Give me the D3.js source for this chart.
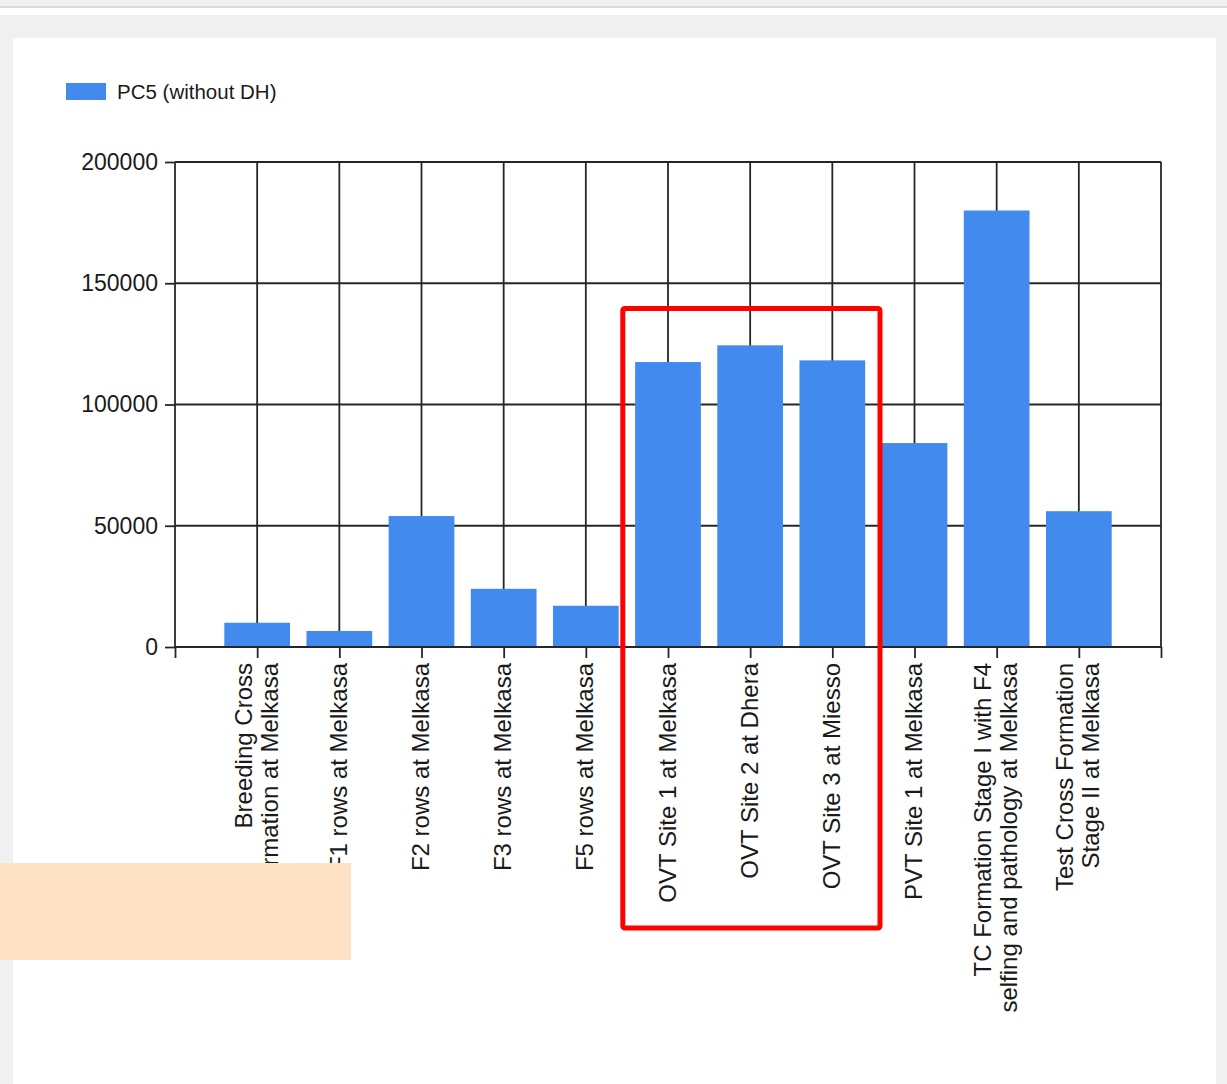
<!DOCTYPE html>
<html>
<head>
<meta charset="utf-8">
<script src="https://cdn.jsdelivr.net/npm/d3@7"></script>
<style>
  body { margin: 0; background: #f0f0f0; }
  svg { display: block; font-family: "Liberation Sans", Arial, sans-serif; }
</style>
</head>
<body>
<div id="chart"></div>
<script>
// datos del grafico
const categories = [
  "Breeding Cross\nFormation at Melkasa",
  "F1 rows at Melkasa",
  "F2 rows at Melkasa",
  "F3 rows at Melkasa",
  "F5 rows at Melkasa",
  "OVT Site 1 at Melkasa",
  "OVT Site 2 at Dhera",
  "OVT Site 3 at Miesso",
  "PVT Site 1 at Melkasa",
  "TC Formation Stage I with F4\nselfing and pathology at Melkasa",
  "Test Cross Formation\nStage II at Melkasa"
];
const values = [10000, 6600, 54000, 24000, 17000, 117500, 124400, 118200, 84100, 180000, 56000];
const yTicks = [0, 50000, 100000, 150000, 200000];
const seriesName = "PC5 (without DH)";

// configuracion
const W = 1227, H = 1084;
const plot = {left: 175, right: 1161, top: 162, bottom: 647};
const barColor = "#428aee";
const lineColor = "#262626";

const svg = d3.select("#chart").append("svg")
  .attr("width", W)
  .attr("height", H);

// fondo de la ventana
svg.append("rect").attr("width", W).attr("height", H).attr("fill", "#f0f0f0");
svg.append("rect").attr("x", 0).attr("y", 6).attr("width", W).attr("height", 2).attr("fill", "#d9d9d9");
svg.append("rect").attr("x", 0).attr("y", 8).attr("width", W).attr("height", 7).attr("fill", "#ffffff");
svg.append("rect").attr("x", 13).attr("y", 38).attr("width", 1203).attr("height", H - 38).attr("fill", "#ffffff");

// escalas: las categorias van en 1..n, el eje de 0 a n+1
const x = d3.scaleLinear()
  .domain([0, categories.length + 1])
  .range([plot.left, plot.right]);
const y = d3.scaleLinear()
  .domain([0, 200000])
  .range([plot.bottom, plot.top]);

const g = svg.append("g");

// lineas de la cuadricula
g.selectAll(".hgrid")
  .data(yTicks.slice(1))
  .enter().append("line")
  .attr("x1", plot.left).attr("x2", plot.right)
  .attr("y1", d => y(d)).attr("y2", d => y(d))
  .attr("stroke", lineColor).attr("stroke-width", 1.8);

g.selectAll(".vgrid")
  .data(d3.range(1, categories.length + 2))
  .enter().append("line")
  .attr("x1", d => x(d)).attr("x2", d => x(d))
  .attr("y1", plot.top).attr("y2", plot.bottom)
  .attr("stroke", lineColor).attr("stroke-width", 1.8);

// barras
g.selectAll(".bar")
  .data(values)
  .enter().append("rect")
  .attr("class", "bar")
  .attr("x", (d, i) => x(i + 1 - 0.4))
  .attr("width", x(0.8) - x(0))
  .attr("y", d => y(d))
  .attr("height", d => y(0) - y(d))
  .attr("fill", barColor);

// eje Y
const yAxis = g.append("g")
  .attr("transform", `translate(${plot.left},0)`)
  .call(d3.axisLeft(y).tickValues(yTicks).tickSize(10).tickPadding(7).tickFormat(d3.format("d")));
yAxis.select(".domain").remove();
yAxis.selectAll("line").attr("stroke", lineColor).attr("stroke-width", 1.8);
yAxis.selectAll("text")
  .attr("fill", "#1a1a1a")
  .style("font-size", "23px")
  .style("font-family", "'Liberation Sans', Arial, sans-serif");

// eje X (ticks en 0..n+1)
const xAxis = g.append("g")
  .attr("transform", `translate(0,${plot.bottom})`)
  .call(d3.axisBottom(x).tickValues(d3.range(0, categories.length + 2)).tickSize(11).tickFormat(""));
xAxis.select(".domain").remove();
xAxis.selectAll("line").attr("stroke", lineColor).attr("stroke-width", 1.8);

// marco del area
g.append("line")
  .attr("x1", plot.left).attr("x2", plot.right)
  .attr("y1", plot.bottom).attr("y2", plot.bottom)
  .attr("stroke", lineColor).attr("stroke-width", 1.8);
g.append("line")
  .attr("x1", plot.left).attr("x2", plot.left)
  .attr("y1", plot.top).attr("y2", plot.bottom)
  .attr("stroke", lineColor).attr("stroke-width", 1.8);

// etiquetas de categoria, giradas
const fs = 24, lh = 26.3;
const labels = g.selectAll(".cat")
  .data(categories)
  .enter().append("text")
  .attr("class", "cat")
  .attr("transform", (d, i) => `translate(${x(i + 1)},${plot.bottom + 16}) rotate(-90)`)
  .attr("text-anchor", "end")
  .attr("fill", "#1a1a1a")
  .style("font-size", fs + "px");

labels.each(function(d) {
  const lines = d.split("\n");
  const t = d3.select(this);
  lines.forEach((ln, k) => {
    t.append("tspan")
      .attr("x", 0)
      .attr("y", 7.5 + (k - (lines.length - 1) / 2) * lh)
      .text(ln);
  });
});

// leyenda
const leg = svg.append("g");
leg.append("rect")
  .attr("x", 66).attr("y", 83).attr("width", 40).attr("height", 17)
  .attr("fill", barColor);
leg.append("text")
  .attr("x", 117).attr("y", 99)
  .attr("fill", "#1a1a1a")
  .style("font-size", "20.5px")
  .text(seriesName);

// recuadro rojo de resaltado (OVT)
svg.append("rect")
  .attr("x", x(5.45)).attr("y", y(139600))
  .attr("width", x(8.58) - x(5.45))
  .attr("height", 928 - y(139600))
  .attr("rx", 2)
  .attr("fill", "none")
  .attr("stroke", "#ff0000")
  .attr("stroke-width", 5);

// caja que tapa parte de las etiquetas
svg.append("rect")
  .attr("x", 0).attr("y", 863).attr("width", 351).attr("height", 97)
  .attr("fill", "#ffe1c4");
</script>
</body>
</html>
